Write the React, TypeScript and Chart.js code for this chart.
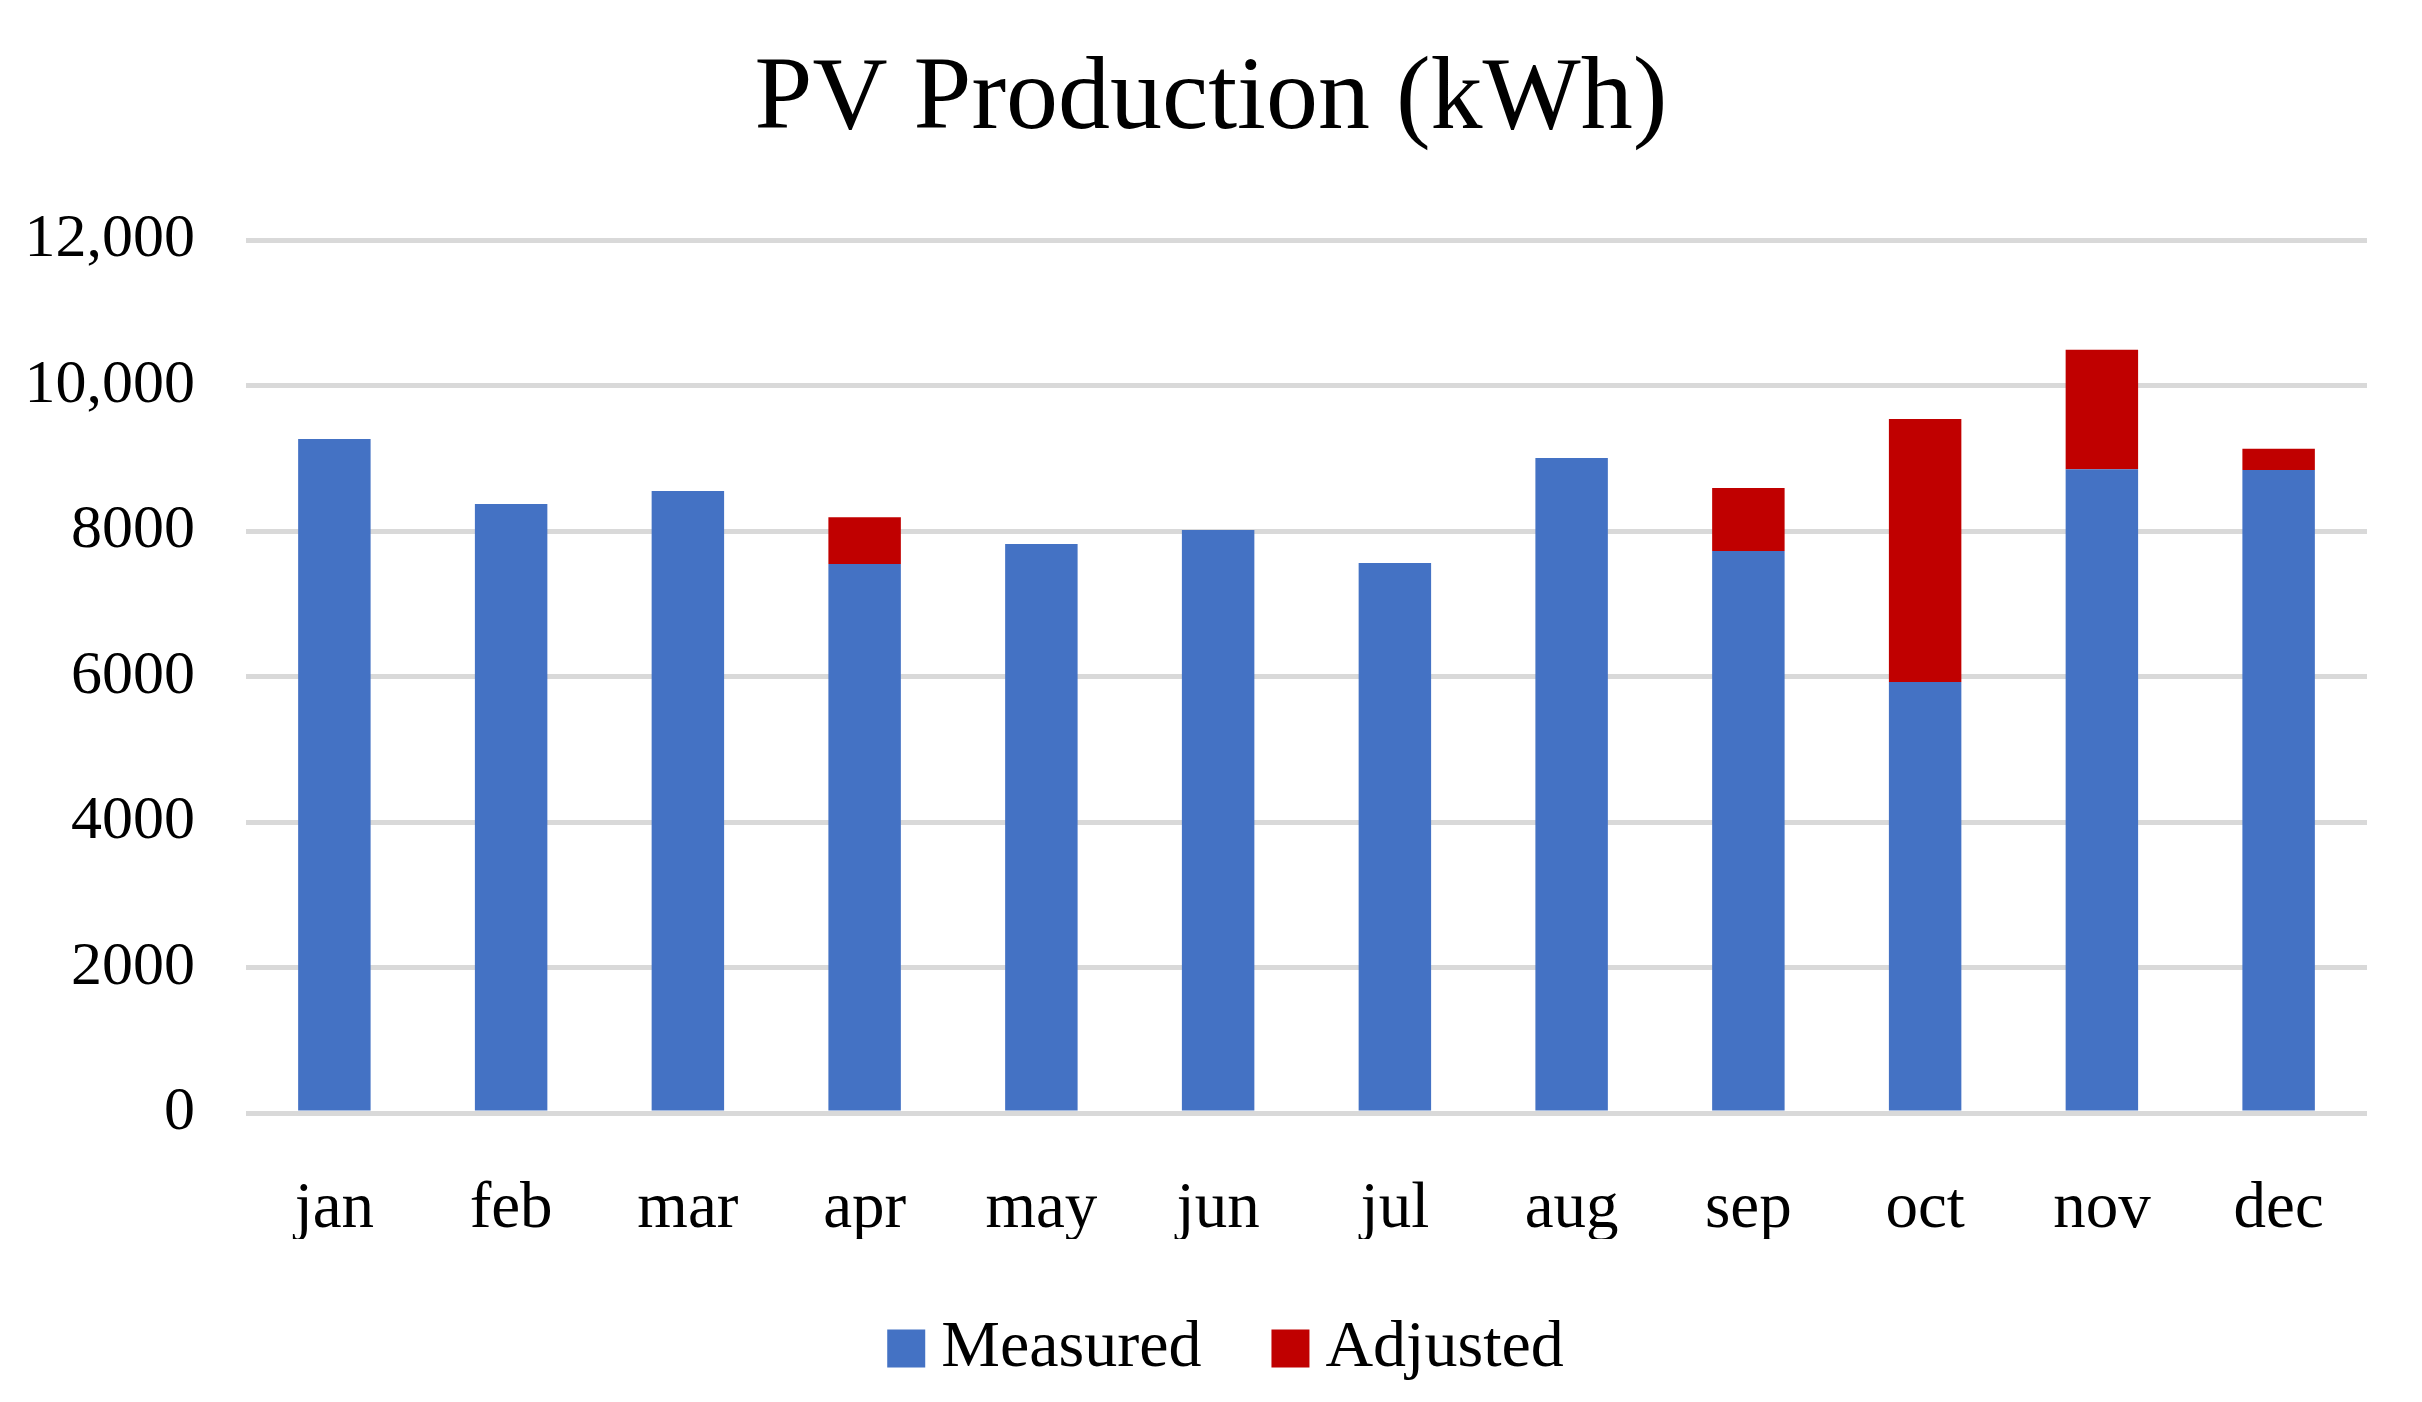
import React, { useRef, useEffect } from 'react';
import { Chart, registerables } from 'chart.js';

Chart.register(...registerables);

const months = ['jan', 'feb', 'mar', 'apr', 'may', 'jun', 'jul', 'aug', 'sep', 'oct', 'nov', 'dec'];
const measured = [9265, 8370, 8550, 7545, 7820, 8015, 7560, 9005, 7725, 5925, 8850, 8840];
const adjusted = [0, 0, 0, 645, 0, 0, 0, 0, 865, 3615, 1640, 290];
const yTickLabels = ['0', '2000', '4000', '6000', '8000', '10,000', '12,000'];

const FONT = "'Liberation Serif', 'Times New Roman', serif";

// the source centres title and legend on the page, not on the plot,
// so move those two boxes a bit after layout
const boxShift = {
  id: 'boxShift',
  afterLayout(chart: any) {
    const t = chart.titleBlock;
    if (t) {
      t.left += 27.5;
      t.right += 27.5;
    }
    const l = chart.legend;
    if (l) {
      l.left += 50.5;
      l.right += 50.5;
      l.top -= 10.5;
      l.bottom -= 10.5;
    }
  }
};

const App = () => {
  const chartRef = useRef<HTMLCanvasElement | null>(null);

  useEffect(() => {
    document.body.style.margin = '0';
    const ctx = chartRef.current!.getContext('2d')!;
    Chart.defaults.color = '#000';
    Chart.defaults.font.family = FONT;

    const chart = new Chart(ctx, {
      type: 'bar',
      data: {
        labels: months,
        datasets: [
          {
            label: 'Measured',
            data: measured,
            backgroundColor: '#4472C4',
            borderWidth: 0,
            barPercentage: 0.41,
            categoryPercentage: 1.0
          },
          {
            label: 'Adjusted',
            data: adjusted,
            backgroundColor: '#C00000',
            borderWidth: 0,
            barPercentage: 0.41,
            categoryPercentage: 1.0
          }
        ]
      },
      plugins: [boxShift],
      options: {
        responsive: true,
        maintainAspectRatio: false,
        animation: false,
        devicePixelRatio: 1,
        layout: {
          padding: { top: 0, left: 0, right: 55, bottom: 0 }
        },
        plugins: {
          title: {
            display: true,
            text: 'PV Production (kWh)',
            color: '#000',
            font: { family: FONT, size: 104, weight: 'normal' },
            padding: { top: 38, bottom: 77.2 }
          },
          legend: {
            position: 'bottom',
            labels: {
              color: '#000',
              font: { family: FONT, size: 66 },
              usePointStyle: true,
              pointStyle: 'rect',
              boxWidth: 4,
              boxHeight: 38,
              padding: 87
            }
          },
          tooltip: { enabled: false }
        },
        scales: {
          x: {
            stacked: true,
            grid: { display: false },
            border: { display: false },
            ticks: {
              color: '#000',
              font: { family: FONT, size: 65 },
              padding: 50,
              maxRotation: 0
            },
            afterFit: (axis: any) => {
              axis.height = 126;
            }
          },
          y: {
            stacked: true,
            min: 0,
            max: 12000,
            grid: {
              color: '#d9d9d9',
              lineWidth: 5,
              drawTicks: false
            },
            border: { display: false },
            ticks: {
              stepSize: 2000,
              color: '#000',
              font: { family: FONT, size: 62 },
              padding: 51,
              callback: (_value: any, index: number) => yTickLabels[index]
            },
            afterFit: (axis: any) => {
              axis.width = 246;
            }
          }
        }
      }
    });

    return () => chart.destroy();
  }, []);

  return (
    <div style={{ position: 'relative', width: '2422px', height: '1402px', background: '#fff' }}>
      <canvas ref={chartRef}></canvas>
    </div>
  );
};

export default App;
